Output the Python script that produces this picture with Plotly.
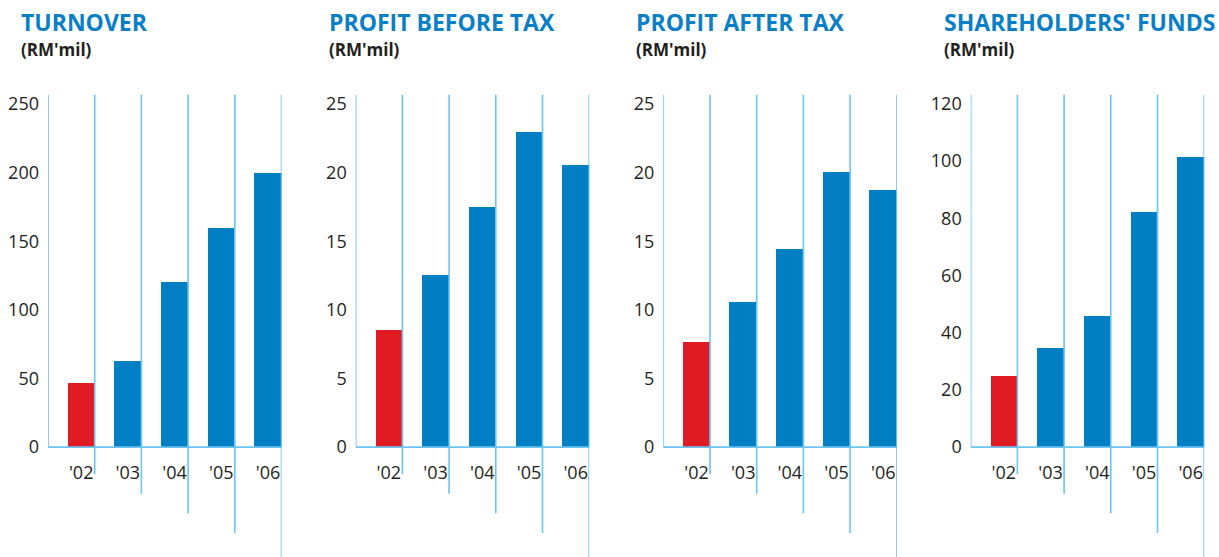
import plotly.graph_objects as go

# ---------------- data ----------------
categories = ["'02", "'03", "'04", "'05", "'06"]
turnover = [47, 63, 121, 160, 200]
profit_before_tax = [8.6, 12.6, 17.5, 23.0, 20.6]
profit_after_tax = [7.7, 10.6, 14.5, 20.1, 18.8]
shareholders_funds = [25.0, 35.0, 46.0, 82.3, 101.5]

titles = ["TURNOVER", "PROFIT BEFORE TAX", "PROFIT AFTER TAX", "SHAREHOLDERS' FUNDS"]
unit_label = "(RM'mil)"
tick_max = [250, 25, 25, 120]
tick_step = [50, 5, 5, 20]
series = [turnover, profit_before_tax, profit_after_tax, shareholders_funds]

# ---------------- style ----------------
W, H = 1219, 557
BLUE = "#007fc4"
RED = "#e01b23"
LINE = "#6cc4ef"
TITLE_BLUE = "#0a7fc6"
TEXT = "#231f20"
FONT = "Open Sans"

panel_left_px = [48, 355.7, 663.3, 970.7]
panel_w_px = 233.5
top_px = 92.0        # top of plot area
zero_px = 446.5      # pixel of value 0
toptick_px = 101.5   # pixel of highest tick
drop_px = [27, 47, 66.5, 86.5, 115]  # how far each divider drops below zero line
BAR_WIDTH = 0.58
BAR_OFFSET = 0.5 - BAR_WIDTH
LINE_W = 1.6

fig = go.Figure()
shapes = []
annotations = []

ydom = [0, 1 - top_px / H]
for k in range(4):
    xa = "x" if k == 0 else f"x{k+1}"
    ya = "y" if k == 0 else f"y{k+1}"
    ppu = (zero_px - toptick_px) / tick_max[k]
    ymax = tick_max[k] + (toptick_px - top_px) / ppu
    ymin = -(H - zero_px) / ppu
    n = len(categories)
    colors = [RED] + [BLUE] * (n - 1)
    fig.add_trace(go.Bar(
        x=list(range(n)), y=series[k], width=BAR_WIDTH, offset=BAR_OFFSET,
        marker=dict(color=colors, line=dict(width=0)),
        xaxis=xa, yaxis=ya, showlegend=False, hoverinfo="x+y",
    ))
    left = panel_left_px[k] / W
    right = (panel_left_px[k] + panel_w_px) / W
    tickvals_x = [i + BAR_OFFSET + BAR_WIDTH / 2 for i in range(n)]
    fig.layout[("xaxis" if k == 0 else f"xaxis{k+1}")] = dict(
        domain=[left, right], range=[-0.5, n - 0.5], anchor="free",
        position=(H - zero_px) / H, showgrid=False, zeroline=False,
        showline=False, ticks="", tickvals=tickvals_x, ticktext=categories,
        tickfont=dict(family=FONT, size=18, color=TEXT),
        ticklabelstandoff=13, fixedrange=True,
    )
    fig.layout[("yaxis" if k == 0 else f"yaxis{k+1}")] = dict(
        domain=ydom, range=[ymin, ymax], anchor=xa,
        showgrid=False, zeroline=False, showline=False, ticks="",
        tickvals=list(range(0, tick_max[k] + 1, tick_step[k])),
        tickfont=dict(family=FONT, size=18, color=TEXT),
        ticklabelstandoff=8, fixedrange=True,
    )
    # left axis line
    shapes.append(dict(type="line", xref=xa, yref=ya, x0=-0.5, x1=-0.5, y0=0, y1=ymax,
                       line=dict(color=LINE, width=LINE_W), layer="above"))
    # zero baseline
    shapes.append(dict(type="line", xref=xa, yref=ya, x0=-0.5, x1=n - 0.5, y0=0, y1=0,
                       line=dict(color=LINE, width=LINE_W), layer="above"))
    # dividers
    for i in range(n):
        shapes.append(dict(type="line", xref=xa, yref=ya, x0=i + 0.5, x1=i + 0.5,
                           y0=-drop_px[i] / ppu, y1=ymax,
                           line=dict(color=LINE, width=LINE_W), layer="above"))
    tx = (panel_left_px[k] - 29) / W
    annotations.append(dict(text=f"<b>{titles[k]}</b>", xref="paper", yref="paper",
                            x=tx, y=1 - 1 / H, xanchor="left", yanchor="top",
                            showarrow=False, font=dict(family=FONT, size=23, color=TITLE_BLUE)))
    annotations.append(dict(text=f"<b>{unit_label}</b>", xref="paper", yref="paper",
                            x=tx, y=1 - 33 / H, xanchor="left", yanchor="top",
                            showarrow=False, font=dict(family=FONT, size=17, color=TEXT)))

fig.update_layout(
    width=W, height=H, margin=dict(l=0, r=0, t=0, b=0),
    paper_bgcolor="white", plot_bgcolor="white",
    shapes=shapes, annotations=annotations, bargap=0,
)
fig.write_html("out.html", config={"displayModeBar": False},
               post_script="document.body.style.margin='0';document.body.style.overflow='hidden';")
